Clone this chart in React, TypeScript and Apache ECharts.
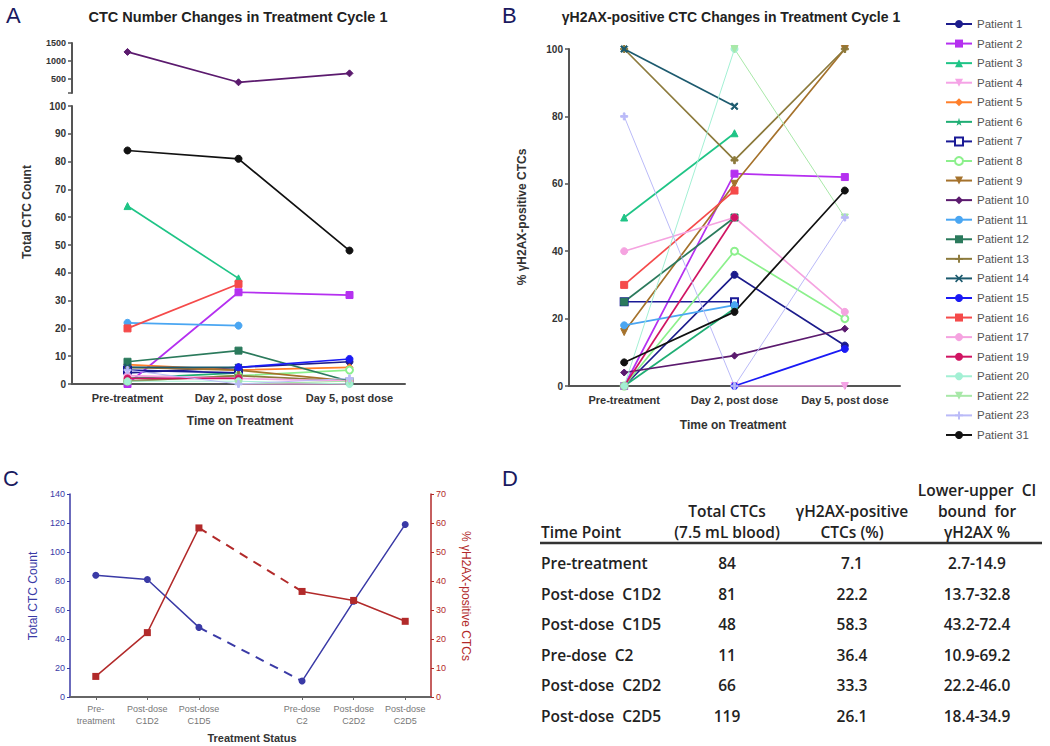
import React, { useEffect, useRef } from "react";
import * as echarts from "echarts";

// ---------- Panels A & B: cycle 1 ----------
const cycleTimepoints = ["Pre-treatment", "Day 2, post dose", "Day 5, post dose"];
const patients = [
  "Patient 1", "Patient 2", "Patient 3", "Patient 4", "Patient 5", "Patient 6",
  "Patient 7", "Patient 8", "Patient 9", "Patient 10", "Patient 11", "Patient 12",
  "Patient 13", "Patient 14", "Patient 15", "Patient 16", "Patient 17", "Patient 19",
  "Patient 20", "Patient 22", "Patient 23", "Patient 31",
];
const patientColors = [
  "#1c1c8c", "#b530f0", "#1fc486", "#f5a3e6", "#ff7f2a", "#1fae74",
  "#1a1a96", "#8cf08c", "#a5722c", "#5b1a6e", "#4aa6f2", "#2b7a5c",
  "#8c7a3c", "#1c5a6e", "#1a1af5", "#f54a4a", "#f5a3e0", "#d01462",
  "#a3f0d4", "#a8e8a8", "#babaf8", "#111111",
];
const STAR = "path://M50,0 L61,35 L98,35 L68,57 L79,91 L50,70 L21,91 L32,57 L2,35 L39,35 Z";
const PLUS = "path://M38,0 H62 V38 H100 V62 H62 V100 H38 V62 H0 V38 H38 Z";
const CROSS = "path://M15,0 L50,35 L85,0 L100,15 L65,50 L100,85 L85,100 L50,65 L15,100 L0,85 L35,50 L0,15 Z";
const patientSymbols = [
  "circle", "rect", "triangle", "triangle", "diamond", STAR,
  "emptyRect", "emptyCircle", "triangle", "diamond", "circle", "rect",
  PLUS, CROSS, "circle", "rect", "circle", "circle",
  "circle", "triangle", PLUS, "circle",
];
const patientSymbolRotate = [0, 0, 0, 180, 0, 0, 0, 0, 180, 0, 0, 0, 0, 0, 0, 0, 0, 0, 0, 180, 0, 0];
const thinPatients = ["Patient 20", "Patient 22", "Patient 23"];

// Total CTC count (panel A)
const ctcPre = [4, 0, 64, null, 7, 2, 5, 1, 6, 1250, 22, 8, 1, 6, null, 20, 3, 2, 1, null, 5, 84];
const ctcDay2 = [6, 33, 38, 0, 5, 4, 4, 3, 5, 400, 21, 12, 3, 6, 6, 36, 2, 2, 1, 0, 0, 81];
const ctcDay5 = [8, 32, null, 0, 6, null, null, 5, 1, 650, null, 1, 1, null, 9, null, 1, null, 0, 1, 2, 48];

// % gammaH2AX-positive CTCs (panel B)
const h2axPre = [0, 0, 50, null, 0, 0, 25, 0, 16, 4, 18, 25, 100, 100, null, 30, 40, 0, 0, null, 80, 7];
const h2axDay2 = [33, 63, 75, 0, null, 23, 25, 40, 60, 9, 24, 50, 67, 83, 0, 58, 50, 50, 100, 100, 0, 22];
const h2axDay5 = [12, 62, null, 0, null, null, null, 20, 100, 17, null, null, 100, null, 11, null, 22, null, null, 50, 50, 58];

const upperTicks = [500, 1000, 1500];

// ---------- Panels C & D: patient 31 over two cycles ----------
const timePoints = ["Pre-treatment", "Post-dose  C1D2", "Post-dose  C1D5", "Pre-dose  C2", "Post-dose  C2D2", "Post-dose  C2D5"];
const cTickLabels = ["Pre-\ntreatment", "Post-dose\nC1D2", "Post-dose\nC1D5", "Pre-dose\nC2", "Post-dose\nC2D2", "Post-dose\nC2D5"];
const totalCtc = [84, 81, 48, 11, 66, 119];
const h2axPct = [7.1, 22.2, 58.3, 36.4, 33.3, 26.1];
const ciBounds = ["2.7-14.9", "13.7-32.8", "43.2-72.4", "10.9-69.2", "22.2-46.0", "18.4-34.9"];
const tableHeaders = [
  ["Time Point"],
  ["Total CTCs", "(7.5 mL blood)"],
  ["γH2AX-positive", "CTCs (%)"],
  ["Lower-upper  CI", "bound  for", "γH2AX %"],
];

const FONT = "'Liberation Sans', Arial, sans-serif";
const TFONT = "'Open Sans', 'Noto Sans', sans-serif";
const BLUE = "#3a3aa6";
const RED = "#b22a2a";

export default function App() {
  const ref = useRef<HTMLDivElement>(null);
  useEffect(() => {
    if (!ref.current) return;
    const chart = echarts.init(ref.current, null, { renderer: "svg" });

    const series: any[] = [];
    const baseLine = (i: number) => ({
      type: "line",
      name: patients[i],
      color: patientColors[i],
      symbol: patientSymbols[i],
      symbolRotate: patientSymbolRotate[i],
      symbolSize: 7,
      lineStyle: { width: thinPatients.includes(patients[i]) ? 1 : 1.7, color: patientColors[i] },
      itemStyle: { color: patientColors[i], borderColor: patientColors[i] },
      connectNulls: false,
      emphasis: { disabled: true },
    });
    patients.forEach((_, i) => {
      const a = [ctcPre[i], ctcDay2[i], ctcDay5[i]];
      const upper = a.some((v) => v != null && v > 100);
      series.push({ ...baseLine(i), xAxisIndex: upper ? 0 : 1, yAxisIndex: upper ? 0 : 1, data: a });
      series.push({ ...baseLine(i), xAxisIndex: 2, yAxisIndex: 2, data: [h2axPre[i], h2axDay2[i], h2axDay5[i]] });
    });

    // Panel C: gap category between cycle 1 and cycle 2
    const cCats = [...cTickLabels.slice(0, 3), "", ...cTickLabels.slice(3)];
    const withGap = (arr: number[]) => [...arr.slice(0, 3), null, ...arr.slice(3)];
    const dashOnly = (arr: number[]) => withGap(arr).map((v, k) => (k === 2 || k === 4 ? v : null));
    series.push({
      type: "line", name: "Total CTC", xAxisIndex: 3, yAxisIndex: 3, data: withGap(totalCtc),
      symbol: "circle", symbolSize: 7, connectNulls: false, color: BLUE,
      lineStyle: { color: BLUE, width: 1.5 }, itemStyle: { color: BLUE },
    });
    series.push({
      type: "line", name: "Total CTC dashed", xAxisIndex: 3, yAxisIndex: 3, data: dashOnly(totalCtc),
      symbol: "none", connectNulls: true, lineStyle: { color: BLUE, width: 2, type: [9, 7] },
    });
    series.push({
      type: "line", name: "% γH2AX", xAxisIndex: 3, yAxisIndex: 4, data: withGap(h2axPct),
      symbol: "rect", symbolSize: 7, connectNulls: false, color: RED,
      lineStyle: { color: RED, width: 1.5 }, itemStyle: { color: RED },
    });
    series.push({
      type: "line", name: "% γH2AX dashed", xAxisIndex: 3, yAxisIndex: 4, data: dashOnly(h2axPct),
      symbol: "none", connectNulls: true, lineStyle: { color: RED, width: 2, type: [9, 7] },
    });

    const abAxisLine = { show: true, lineStyle: { color: "#555", width: 2 } };
    const abLabel = { color: "#333", fontSize: 10, fontWeight: "bold" as const, fontFamily: FONT };
    const catAxis = (gridIndex: number) => ({
      type: "category", gridIndex, data: cycleTimepoints,
      axisLine: abAxisLine,
      axisTick: { show: true, alignWithLabel: true, length: 3, lineStyle: { color: "#555" } },
      axisLabel: { ...abLabel, fontSize: 11, margin: 8, interval: 0 },
    });

    const txt = (x: number, y: number, text: string, o: any = {}, rot = 0) => ({
      type: "text", x, y, rotation: rot,
      style: {
        text, fill: o.fill || "#222", fontSize: o.fontSize || 12, fontWeight: o.fontWeight || "normal",
        fontFamily: o.fontFamily || FONT, align: o.align || "center", verticalAlign: "middle",
      },
    });

    const graphics: any[] = [
      txt(6, 15, "A", { fontSize: 22, align: "left", fill: "#1a1a60" }),
      txt(502, 15, "B", { fontSize: 22, align: "left", fill: "#1a1a60" }),
      txt(3, 478, "C", { fontSize: 22, align: "left", fill: "#1a1a60" }),
      txt(502, 478, "D", { fontSize: 22, align: "left", fill: "#1a1a60" }),
      txt(238, 17, "CTC Number Changes in Treatment Cycle 1", { fontSize: 14.5, fontWeight: "bold" }),
      txt(731, 17, "γH2AX-positive CTC Changes in Treatment Cycle 1", { fontSize: 14, fontWeight: "bold" }),
      txt(27, 212, "Total CTC Count", { fontSize: 12, fontWeight: "bold", fill: "#333" }, Math.PI / 2),
      txt(522, 217, "% γH2AX-positive CTCs", { fontSize: 12, fontWeight: "bold", fill: "#333" }, Math.PI / 2),
      txt(240, 421, "Time on Treatment", { fontSize: 12, fontWeight: "bold", fill: "#333" }),
      txt(733, 425, "Time on Treatment", { fontSize: 12, fontWeight: "bold", fill: "#333" }),
      txt(33, 596, "Total CTC Count", { fontSize: 12, fill: BLUE }, Math.PI / 2),
      txt(466, 596, "% γH2AX-positive CTCs", { fontSize: 12, fill: RED }, -Math.PI / 2),
      txt(252, 738, "Treatment Status", { fontSize: 11, fontWeight: "bold", fill: "#333" }),
    ];

    // Panel D table
    const colX = [541, 727, 852, 977];
    const headerBottom = 532;
    const cellFont = { fontSize: 15.5, fontWeight: 600, fontFamily: TFONT, fill: "#222" };
    tableHeaders.forEach((lines, c) => {
      lines.forEach((line, k) => {
        const y = headerBottom - (lines.length - 1 - k) * 21;
        graphics.push(txt(colX[c], y, line, { ...cellFont, align: c === 0 ? "left" : "center" }));
      });
    });
    graphics.push({
      type: "line", shape: { x1: 540, y1: 543, x2: 1042, y2: 543 },
      style: { stroke: "#333", lineWidth: 2.5 },
    });
    timePoints.forEach((tp, r) => {
      const y = 563 + r * 30.5;
      const cells = [tp, String(totalCtc[r]), h2axPct[r].toFixed(1), ciBounds[r]];
      cells.forEach((cell, c) => {
        graphics.push(txt(colX[c], y, cell, { ...cellFont, align: c === 0 ? "left" : "center" }));
      });
    });

    chart.setOption({
      animation: false,
      textStyle: { fontFamily: FONT },
      grid: [
        { left: 72, top: 43, width: 333, height: 50 },
        { left: 72, top: 106, width: 333, height: 278 },
        { left: 569, top: 49, width: 331, height: 337 },
        { left: 70, top: 494, width: 361, height: 203 },
      ],
      xAxis: [
        { ...catAxis(0), show: false },
        catAxis(1),
        catAxis(2),
        {
          type: "category", gridIndex: 3, data: cCats,
          axisLine: { lineStyle: { color: "#666", width: 2 } },
          axisTick: { show: true, alignWithLabel: true, length: 3, interval: (_i: number, v: string) => v !== "", lineStyle: { color: "#666" } },
          axisLabel: { color: "#777", fontSize: 9, lineHeight: 12, interval: 0, margin: 6, fontFamily: FONT },
        },
      ],
      yAxis: [
        {
          type: "value", gridIndex: 0, min: 100, max: 1500, splitLine: { show: false },
          axisLine: abAxisLine,
          axisTick: { show: true, length: 4, customValues: [100, ...upperTicks], lineStyle: { color: "#555", width: 1.5 } },
          axisLabel: { ...abLabel, fontSize: 9, customValues: upperTicks, margin: 6, formatter: (v: number) => String(v) },
        },
        {
          type: "value", gridIndex: 1, min: 0, max: 100, interval: 10, splitLine: { show: false },
          axisLine: abAxisLine,
          axisTick: { show: true, length: 4, lineStyle: { color: "#555", width: 1.5 } },
          axisLabel: { ...abLabel, margin: 6 },
        },
        {
          type: "value", gridIndex: 2, min: 0, max: 100, interval: 20, splitLine: { show: false },
          axisLine: abAxisLine,
          axisTick: { show: true, length: 4, lineStyle: { color: "#555", width: 1.5 } },
          axisLabel: { ...abLabel, margin: 6 },
        },
        {
          type: "value", gridIndex: 3, min: 0, max: 140, interval: 20, position: "left", splitLine: { show: false },
          axisLine: { show: true, lineStyle: { color: BLUE, width: 1.5 } },
          axisTick: { show: true, length: 3, lineStyle: { color: BLUE } },
          axisLabel: { color: BLUE, fontSize: 9, margin: 5 },
        },
        {
          type: "value", gridIndex: 3, min: 0, max: 70, interval: 10, position: "right", splitLine: { show: false },
          axisLine: { show: true, lineStyle: { color: RED, width: 1.5 } },
          axisTick: { show: true, length: 3, lineStyle: { color: RED } },
          axisLabel: { color: RED, fontSize: 9, margin: 5 },
        },
      ],
      legend: {
        data: patients,
        orient: "vertical",
        left: 940,
        top: 13,
        itemWidth: 26,
        itemHeight: 10,
        itemGap: 7.57,
        textStyle: { color: "#555", fontSize: 11.5, fontFamily: FONT },
        selectedMode: false,
      },
      series,
      graphic: graphics,
    });
    return () => chart.dispose();
  }, []);
  return <div ref={ref} style={{ position: "fixed", left: 0, top: 0, width: 1050, height: 746, background: "#fff" }} />;
}
